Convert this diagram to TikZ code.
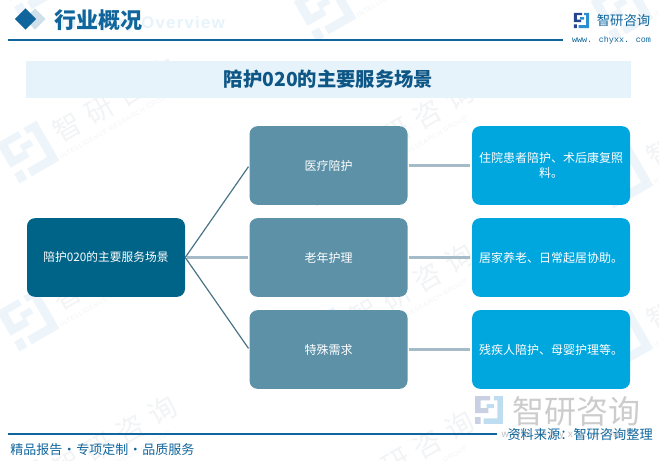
\documentclass[tikz,border=0pt]{standalone}
\usepackage{fontspec}
\setmainfont{Noto Sans CJK SC}
\newfontfamily\sitefont{Liberation Mono}
\newfontfamily\markfont[LetterSpace=30]{Noto Sans CJK SC}
\newfontfamily\groupfont[LetterSpace=8]{Liberation Sans}
\usepackage{tikz}
\usetikzlibrary{positioning, calc}
\usetikzlibrary{shapes.geometric}
\definecolor{headblue}{HTML}{0F659C}
\definecolor{rootfill}{HTML}{006488}
\definecolor{midfill}{HTML}{5D91A7}
\definecolor{leaffill}{HTML}{00A6DE}
\definecolor{bandfill}{HTML}{E6F3FB}
\definecolor{softline}{HTML}{A5BBC8}
\definecolor{markgray}{HTML}{F1F3F5}
\definecolor{marklogo}{HTML}{EEF5FA}
\definecolor{logonavy}{HTML}{27448F}
\definecolor{logoblue}{HTML}{2A8FD0}
\tikzstyle{rootbox}=[rectangle,rounded corners=6pt,fill=rootfill,text=white,minimum width=118.5pt,minimum height=59pt,inner sep=0pt,align=center,font=\fontsize{9}{11}\selectfont]
\tikzstyle{midbox}=[rootbox,fill=midfill]
\tikzstyle{leafbox}=[rootbox,fill=leaffill]
\tikzstyle{edgeroot}=[color=midfill!80!black,line width=0.9pt,shorten >=1pt]
\tikzstyle{edgesoft}=[draw=softline,line width=1.6pt,shorten >=1.2pt,shorten <=1.2pt]
\tikzstyle{headline}=[color=headblue,line width=0.8pt]
\tikzset{
    pics/brandlogo/.style 2 args={code={
        \fill[#1] (-23,-23) rectangle (2,-16) (-23,-23) rectangle (-14,5)
                  (-23,-3) rectangle (-1,5) (-23,12) rectangle (-14,23);
        \fill[#2] (8,-23) rectangle (23,-16) (14,-23) rectangle (23,23)
                  (-9,14) rectangle (23,23) (-4,-10) rectangle (8,-3);
    }},
    pics/brandmark/.style={code={
        \pic[rotate=30] {brandlogo={marklogo}{marklogo}};
        \node[text=markgray,rotate=30,inner sep=0pt,font=\markfont\fontsize{21}{23}\selectfont] (-word) at (87,-52) {智研咨询};
        \node[text=markgray,rotate=30,inner sep=0pt,font=\groupfont\fontsize{5}{6}\selectfont] (-group) at (87,-26) {INTELLIGENCE RESEARCH GROUP};
    }}
}

\begin{document}
\begin{tikzpicture}[x=0.75pt,y=-0.75pt]
        \useasboundingbox (0,0) rectangle (659,460);

        % background marks
        \foreach \wx/\wy [count=\wi] in {28/-15,28/152,28/320,28/490,325/10,325/175,325/338,325/505,622/10,622/177,622/340,622/505}
            \pic (mark\wi) at (\wx,\wy) {brandmark};

        % header
        \node[font=\groupfont\bfseries\fontsize{12.5}{14}\selectfont,text=bandfill,anchor=east,inner sep=0pt] (overview) at (225,24) {Industry Overview};
        \node[diamond,fill=headblue!20,minimum size=16pt,inner sep=0pt] (mark2) at (35,19) {};
        \node[diamond,fill=headblue,minimum size=16pt,inner sep=0pt] (mark1) at (25.5,19) {};
        \node[font=\bfseries\fontsize{16.5}{18}\selectfont,text=headblue,inner sep=0pt] (head) at (98.5,20) {行业概况};
        \coordinate (hl) at (8,40);
        \coordinate (hr) at (563,40);
        \draw[headline] (hl) -- (hr);

        % logo
        \pic[scale=0.33] (toplogo) at (581.5,20.5) {brandlogo={logonavy}{logoblue}};
        \node[font=\fontsize{10}{12}\selectfont,text=headblue,inner sep=0pt] (brand) at (623.5,20) {智研咨询};
        \node[font=\sitefont\fontsize{6.3}{8}\selectfont,text=headblue,inner sep=0pt] (site) at (611.5,40) {www. chyxx. com};

        % title band
        \node[rectangle,fill=bandfill,minimum width=453.75pt,minimum height=27.75pt,inner sep=0pt,
              font=\bfseries\fontsize{14.5}{16}\selectfont,text=headblue!85!black] (title) at (328.5,79.5) {\raisebox{-1pt}{陪护020的主要服务场景}};

        % boxes
        \node[rootbox,font=\fontsize{8.8}{11}\selectfont] (root) at (106,257.5) {陪护020的主要服务场景};
        \node[midbox, right =48.75pt of root,xshift=-0.75pt] (care) {老年护理};
        \node[midbox, above =9.6pt of care] (med) {医疗陪护};
        \node[midbox, below =9.6pt of care] (spec) {特殊需求};
        \node[leafbox, right =48pt of care] (carel) {居家养老、日常起居协助。};
        \node[leafbox, right =48pt of med] (medl) {住院患者陪护、术后康复照\\料。};
        \node[leafbox, right =48pt of spec] (specl) {残疾人陪护、母婴护理等。};

        \draw[edgeroot] (root.east) -- (med.west);
        \draw[edgeroot] (root.east) -- (spec.west);
        \draw[edgesoft] (root) -- (care);
        \draw[edgesoft] (med) -- (medl);
        \draw[edgesoft] (care) -- (carel);
        \draw[edgesoft] (spec) -- (specl);

        % footer
        \pic[scale=0.6] (footlogo) at (489,410) {brandlogo={logonavy!25}{logoblue!30}};
        \node[text=black!20,font=\fontsize{24}{26}\selectfont,inner sep=0pt] (bigbrand) at (576.5,411) {智研咨询};
        \node[text=black!25,font=\groupfont\fontsize{7.5}{9}\selectfont,inner sep=0pt] (bigsite) at (560,435) {w w w . c h y x x . c o m};
        \coordinate (fl) at (8,434);
        \coordinate (fr) at (497,434);
        \draw[headline] (fl) -- (fr);
        \node[font=\fontsize{9.75}{11}\selectfont,text=headblue,anchor=west,inner sep=0pt] (slogan) at (10,450) {精品报告\hspace{.4pt}·\hspace{.4pt}专项定制\hspace{.4pt}·\hspace{.4pt}品质服务};
        \node[font=\fontsize{9.9}{11}\selectfont,text=headblue,anchor=east,inner sep=0pt] (source) at (653,435) {资料来源：智研咨询整理};
    \end{tikzpicture}
\end{document}
